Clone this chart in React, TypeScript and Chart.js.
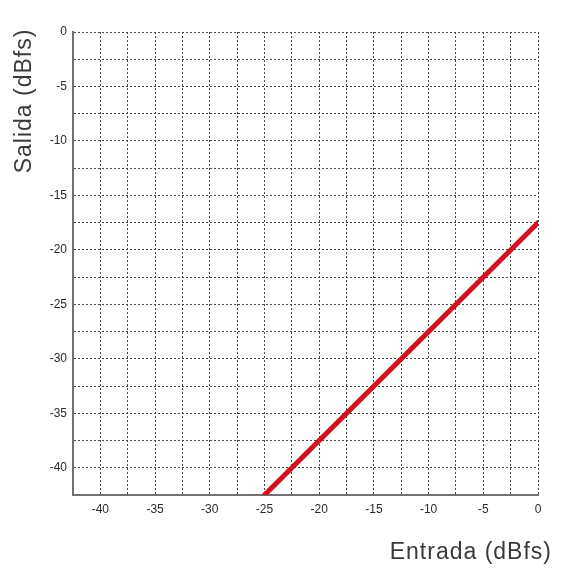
import React, { useEffect, useRef } from "react";
import { Chart, registerables } from "chart.js";

Chart.register(...registerables);

// Transfer curve of the level stage: input level vs. output level (dBfs)
const inputLevels = [-25, 0];
const outputLevels = [-42.5, -17.5];

// Axis extent and grid step (dBfs)
const axisMin = -42.5;
const axisMax = 0;
const gridStep = 2.5;
const labelStep = 5;

const xTitle = "Entrada (dBfs)";
const yTitle = "Salida (dBfs)";

const FONT = "'Liberation Sans', Arial, sans-serif";

const axisTitles = {
  id: "axisTitles",
  afterDraw(chart: Chart) {
    const ctx = chart.ctx;
    ctx.save();
    ctx.fillStyle = "#3a3a3a";
    ctx.font = `23px ${FONT}`;
    (ctx as any).letterSpacing = "1px";
    ctx.textBaseline = "alphabetic";

    ctx.textAlign = "right";
    ctx.fillText(xTitle, 552, 559);

    ctx.translate(31, 101);
    ctx.rotate(-Math.PI / 2);
    ctx.textAlign = "center";
    ctx.fillText(yTitle, 0, 0);
    ctx.restore();
  },
};

const tickLabel = (v: number | string) => {
  const n = Number(v);
  return Math.abs(n % labelStep) < 1e-9 ? String(n === 0 ? 0 : n) : "";
};

const gridStyle = {
  color: "rgba(60,60,60,0.95)",
  lineWidth: 1,
  drawTicks: false,
  tickLength: 0,
};

export default function App() {
  const canvasRef = useRef<HTMLCanvasElement>(null);

  useEffect(() => {
    if (!canvasRef.current) return;
    const chart = new Chart(canvasRef.current, {
      type: "scatter",
      data: {
        datasets: [
          {
            data: inputLevels.map((x, i) => ({ x, y: outputLevels[i] })),
            showLine: true,
            borderColor: "#d3101d",
            backgroundColor: "#d3101d",
            borderWidth: 5,
            pointRadius: 0,
            borderCapStyle: "round",
          },
        ],
      },
      options: {
        responsive: false,
        animation: false,
        layout: { padding: { left: 0, top: 32, right: 24, bottom: 0 } },
        plugins: {
          legend: { display: false },
          tooltip: { enabled: false },
        },
        scales: {
          x: {
            type: "linear",
            min: axisMin,
            max: axisMax,
            grid: { ...gridStyle },
            border: { display: true, color: "#707070", width: 2, dash: [2, 2] },
            ticks: {
              stepSize: gridStep,
              autoSkip: false,
              maxRotation: 0,
              padding: 7,
              color: "#2a2a2a",
              font: { family: FONT, size: 12 },
              callback: tickLabel,
            },
            afterFit(scale: any) {
              scale.height = 74;
            },
          },
          y: {
            type: "linear",
            min: axisMin,
            max: axisMax,
            grid: { ...gridStyle },
            border: { display: true, color: "#707070", width: 2, dash: [2, 2] },
            ticks: {
              stepSize: gridStep,
              autoSkip: false,
              padding: 6,
              color: "#2a2a2a",
              font: { family: FONT, size: 12 },
              callback: tickLabel,
            },
            afterFit(scale: any) {
              scale.width = 73;
            },
          },
        },
      },
      plugins: [axisTitles],
    });
    return () => chart.destroy();
  }, []);

  return (
    <div style={{ position: "absolute", left: 0, top: 0, background: "#fff" }}>
      <canvas ref={canvasRef} width={562} height={569} />
    </div>
  );
}
